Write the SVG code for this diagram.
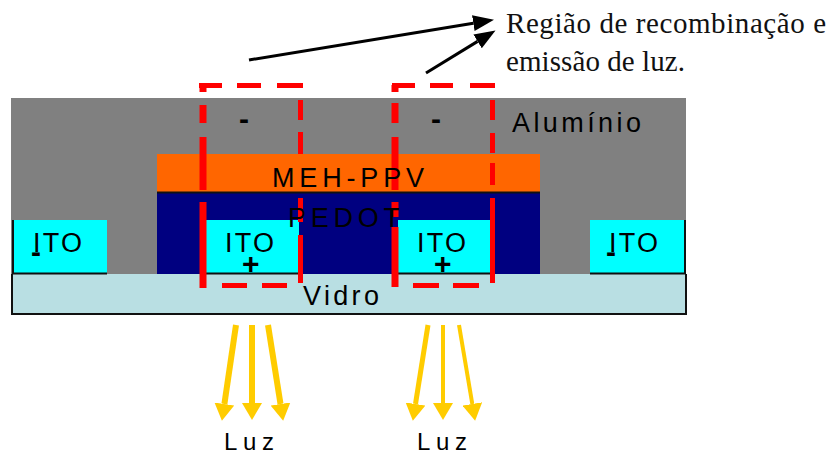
<svg xmlns="http://www.w3.org/2000/svg" width="830" height="455" viewBox="0 0 830 455">
<style>
text{font-family:"Liberation Sans",Arial,sans-serif;font-size:27px;fill:#000}
.s{font-family:"Liberation Serif","Times New Roman",serif;font-size:29px;fill:#111}
.l{font-size:24px}
.ito{fill:#00ffff}
.blk{stroke:#111;stroke-width:2;fill:none}
.red{stroke:#ff0000;fill:none}
.w7{stroke-width:7}.w5{stroke-width:5}
.ya{stroke:#ffcc00;fill:none;marker-end:url(#y)}
.ka{stroke:#000;stroke-width:3;fill:none;marker-end:url(#k)}
.m{font-weight:bold;font-size:30px}
</style>
<defs>
<marker id="y" markerUnits="userSpaceOnUse" markerWidth="17" markerHeight="20" refX="0" refY="10" orient="auto"><path d="M0 0L17 10L0 20z" fill="#ffcc00"/></marker>
<marker id="k" markerUnits="userSpaceOnUse" markerWidth="21" markerHeight="18" refX="0" refY="9" orient="auto"><path d="M0 1L21 9L0 17z" fill="#000"/></marker>
</defs>
<rect width="830" height="455" fill="#fff"/>
<g id="aluminio"><rect x="11" y="98" width="675" height="176" fill="#808080"/><text x="512" y="132" textLength="129" lengthAdjust="spacing">Alumínio</text></g>
<g id="vidro"><rect x="12" y="274" width="674" height="40" fill="#b9dfe3"/><path class="blk" d="M12 274V314H686V274"/><text x="303" y="305" textLength="76" lengthAdjust="spacing">Vidro</text></g>
<g id="pedot-layer"><rect x="157" y="192" width="383" height="82" fill="#000080"/></g>
<g id="ito-1"><rect class="ito" x="13" y="220" width="94" height="53"/><path class="blk" d="M13 220V273.500H107"/><text x="33" y="252" textLength="49" lengthAdjust="spacing">ITO</text><text class="m" x="31" y="262">-</text></g>
<g id="ito-2"><rect class="ito" x="205" y="220" width="94" height="53"/><path class="blk" d="M205 273.500H299"/><text x="225" y="252" textLength="49" lengthAdjust="spacing">ITO</text><text class="m" x="242" y="274">+</text></g>
<g id="ito-3"><rect class="ito" x="398" y="220" width="94" height="53"/><path class="blk" d="M398 273.500H492"/><text x="417" y="252" textLength="49" lengthAdjust="spacing">ITO</text><text class="m" x="434" y="274">+</text></g>
<g id="ito-4"><rect class="ito" x="590" y="220" width="94" height="53"/><path class="blk" d="M590 273.500H685V220"/><text x="609" y="252" textLength="49" lengthAdjust="spacing">ITO</text><text class="m" x="606" y="262">-</text></g>
<g id="mehppv"><rect x="157" y="154" width="383" height="38" fill="#ff6600"/><path class="blk" d="M157 192.500H540"/></g>
<g id="region-1">
<path class="red w5" d="M199 85.500H222M237 85.500H261M277 85.500H303"/>
<path class="red w7" d="M203 85V92M203 105V123M203 137V190M203 202V288"/>
<path class="red w5" d="M300.500 100V120M300.500 132V154M300.500 198V222M300.500 235V283M222 285.500H247M262 285.500H287"/>
</g>
<g id="region-2">
<path class="red w5" d="M392 85.500H415M430 85.500H453M470 85.500H495"/>
<path class="red w7" d="M395 85V92M395 103V123M395 137V190M395 202V217M395 227V287"/>
<path class="red w5" d="M492.500 100V120M492.500 133V153M492.500 163V185M492.500 198V283M413 285.500H439M453 285.500H479"/>
</g>
<g id="labels">
<text x="272" y="187" textLength="152" lengthAdjust="spacing">MEH-PPV</text>
<text x="288" y="227" textLength="112" lengthAdjust="spacing">PEDOT</text>
<text class="m" x="239" y="129">-</text><text class="m" x="431" y="129">-</text>
<text class="s" x="506" y="33" textLength="320" lengthAdjust="spacing">Região de recombinação e</text>
<text class="s" x="506" y="71" textLength="179" lengthAdjust="spacing">emissão de luz.</text>
<text class="l" x="224" y="450" textLength="50" lengthAdjust="spacing">Luz</text>
<text class="l" x="417" y="450" textLength="50" lengthAdjust="spacing">Luz</text>
</g>
<g id="connectors">
<path class="ka" d="M249 60L473.300 23.200"/>
<path class="ka" d="M426 73L477.600 41.400"/>
<path class="ya" stroke-width="6" d="M236 325L224.400 404"/>
<path class="ya" stroke-width="6" d="M252 325V403"/>
<path class="ya" stroke-width="6" d="M268 325L280.500 404"/>
<path class="ya" stroke-width="5" d="M428 325L415.500 404"/>
<path class="ya" stroke-width="4" d="M443 325V403"/>
<path class="ya" stroke-width="4" d="M459 325L472.300 404"/>
</g>
</svg>
